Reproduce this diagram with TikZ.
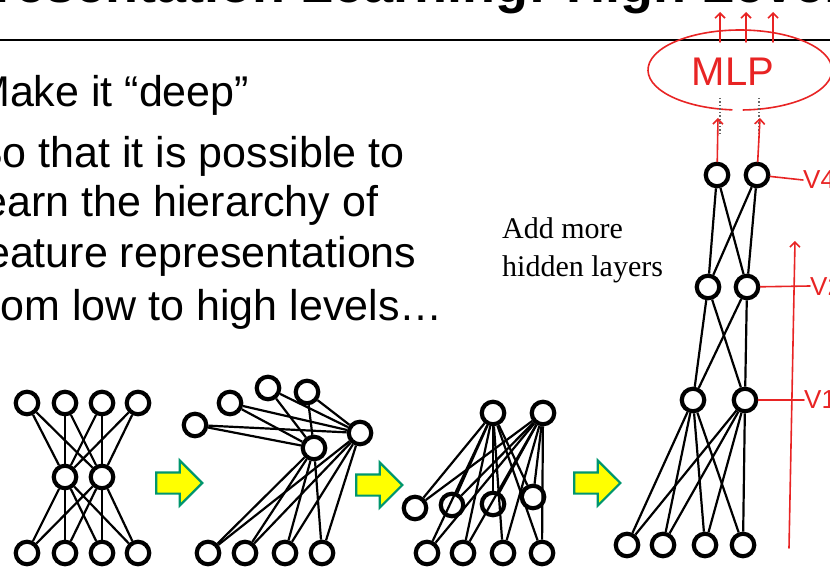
\documentclass[tikz,border=0pt]{standalone}
\usepackage{fontspec}
\setmainfont{Liberation Sans}
\newfontfamily\serifface{Liberation Serif}
\usetikzlibrary{arrows.meta,shapes.arrows}

\definecolor{penred}{RGB}{232,36,36}
\definecolor{arrowgreen}{RGB}{0,150,110}
\definecolor{arrowyellow}{RGB}{255,255,0}

\tikzset{
	unit/.style={circle, draw=black, fill=white, line width=4.2pt, minimum size=22.5pt, inner sep=0pt},
	wire/.style={black, line width=2.2pt},
	stagearrow/.style={single arrow, draw=arrowgreen, fill=arrowyellow, line width=2.2pt,
		minimum height=46pt, inner xsep=0pt, inner ysep=9.5pt, single arrow head extend=12pt},
	pen/.style={penred, line width=1.6pt, line cap=round, line join=round},
	pentip/.style={pen, -{Straight Barb[length=5pt, width=10pt]}},
	bodytext/.style={anchor=base west, inner sep=0pt, font=\fontsize{43}{51}\selectfont},
	tagtext/.style={anchor=west, inner sep=0pt, text=penred, font=\fontsize{26}{26}\selectfont},
}

\begin{document}
\begin{tikzpicture}[x=1pt, y=-1pt]
			%%%%% START %%%%%
			\useasboundingbox (0,0) rectangle (830,569);
			\clip (0,0) rectangle (830,569);
			
			% title and rule
			\node[anchor=base west, inner sep=0pt, font=\bfseries\fontsize{54}{54}\selectfont] (title) at (-108,3) {Representation Learning: High Level};
			\draw[line width=2pt] (0,40) -- (830,40);
			
			% bullets
			\node[bodytext] (line1) at (-26,107) {Make it “deep”};
			\node[bodytext] (line2) at (-26,168) {So that it is possible to};
			\node[bodytext] (line3) at (-26,217) {learn the hierarchy of};
			\node[bodytext] (line4) at (-26,268) {feature representations};
			\node[bodytext] (line5) at (-26,320) {from low to high levels…};
			
			\node[anchor=base west, inner sep=0pt, align=left, font=\serifface\fontsize{30}{38}\selectfont] (addmore) at (502,277) {Add more\\hidden layers};
			
			% net 1: 4-2-4
			\foreach \x [count=\i] in {27,65,102,138} {
				\node[unit] (p\i) at (\x,403) {};
				\node[unit] (r\i) at (\x,553) {};
			}
			\node[unit] (q1) at (65,477) {};
			\node[unit] (q2) at (102,477) {};
			\foreach \i in {1,...,4}
				\foreach \j in {1,2} {
					\draw[wire] (p\i) -- (q\j);
					\draw[wire] (q\j) -- (r\i);
				}
			
			\node[stagearrow] (go1) at (174,483) {};
			
			% net 2: input bent up to the side
			\node[unit] (s1) at (195,425) {};
			\node[unit] (s2) at (230,403) {};
			\node[unit] (s3) at (268,388) {};
			\node[unit] (s4) at (307,392) {};
			\node[unit] (t1) at (314,448) {};
			\node[unit] (t2) at (360,433) {};
			\foreach \x [count=\i] in {208,245,285,322}
				\node[unit] (u\i) at (\x,553) {};
			\foreach \i in {1,...,4}
				\foreach \j in {1,2} {
					\draw[wire] (s\i) -- (t\j);
					\draw[wire] (t\j) -- (u\i);
				}
			
			\node[stagearrow] (go2) at (374,485) {};
			
			% net 3
			\node[unit] (h1) at (493,413) {};
			\node[unit] (h2) at (543,413) {};
			\node[unit] (m1) at (415,508) {};
			\node[unit] (m2) at (452,505) {};
			\node[unit] (m3) at (493,504) {};
			\node[unit] (m4) at (533,497) {};
			\foreach \x [count=\i] in {427,463,503,542}
				\node[unit] (n\i) at (\x,553) {};
			\foreach \i in {1,...,4}
				\foreach \j in {1,2} {
					\draw[wire] (h\j) -- (m\i);
					\draw[wire] (h\j) -- (n\i);
				}
			
			\node[stagearrow] (go3) at (592,483) {};
			
			% net 4: stacked layers
			\foreach \x [count=\i] in {627,663,705,743}
				\node[unit] (x\i) at (\x,545) {};
			\node[unit] (v1a) at (693,400) {};
			\node[unit] (v1b) at (745,400) {};
			\node[unit] (v2a) at (708,287) {};
			\node[unit] (v2b) at (747,287) {};
			\node[unit] (v4a) at (717,175) {};
			\node[unit] (v4b) at (757,175) {};
			\foreach \i in {1,...,4}
				\foreach \j in {a,b}
					\draw[wire] (x\i) -- (v1\j);
			\foreach \i in {a,b}
				\foreach \j in {a,b} {
					\draw[wire] (v1\i) -- (v2\j);
					\draw[wire] (v2\i) -- (v4\j);
				}
			
			% red pen notes
			\draw[pen] (740,70) ++(95:92 and 40) arc[start angle=95, end angle=448, x radius=92, y radius=40];
			\node[text=penred, font=\fontsize{40}{40}\selectfont] (mlp) at (733,72) {MLP};
			\foreach \x in {720,746,773}
				\draw[pentip] (\x,42) -- (\x,12);
			\draw[dotted, line width=1.5pt, black!60] (720,98) -- (720,134);
			\draw[dotted, line width=1.5pt, black!60] (759,98) -- (759,134);
			
			\coordinate (in1) at (718,118);
			\coordinate (in2) at (760,118);
			\draw[pentip] (v4a) -- (in1);
			\draw[pentip] (v4b) -- (in2);
			
			\coordinate (tag4) at (803,180);
			\coordinate (tag2) at (810,286);
			\coordinate (tag1) at (804,400);
			\draw[pen] (v4b) -- (tag4);
			\draw[pen] (v2b) -- (tag2);
			\draw[pen] (v1b) -- (tag1);
			\node[tagtext] (lab4) at (tag4) {V4};
			\node[tagtext] (lab2) at (tag2) {V2};
			\node[tagtext] (lab1) at (tag1) {V1};
			
			\coordinate (rise0) at (789,548);
			\coordinate (rise1) at (795,241);
			\draw[pentip] (rise0) -- (rise1);
			%%%%% END %%%%%
\end{tikzpicture}
\end{document}
